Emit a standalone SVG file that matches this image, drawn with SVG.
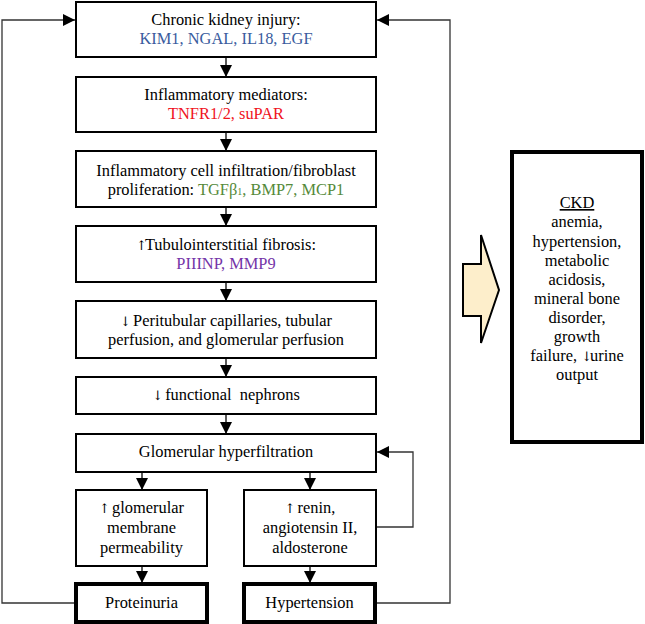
<svg xmlns="http://www.w3.org/2000/svg" width="645" height="624" viewBox="0 0 645 624">
<style>
.box{fill:#fff;stroke:#000;stroke-width:2}
.thick{fill:#fff;stroke:#000;stroke-width:4}
.t{font-family:"Liberation Serif","Times New Roman",serif;font-size:16.4px;fill:#000;text-anchor:middle;white-space:pre}
.ar{font-family:"DejaVu Serif","Liberation Serif",serif;font-size:13px;letter-spacing:-2px}
.blue{fill:#3A5C9E}
.red{fill:#F0141E}
.green{fill:#558A3A}
.purple{fill:#7434A8}
.c{fill:none;stroke:#000;stroke-width:1.3}
.fb{fill:none;stroke:#333;stroke-width:1.3}
</style>
<defs>
<marker id="ah" markerUnits="userSpaceOnUse" markerWidth="12" markerHeight="12" refX="12" refY="6" orient="auto">
<path d="M0,0 L12,6 L0,12 z" fill="#000"/>
</marker>
</defs>
<rect width="645" height="624" fill="#fff"/>
<g id="connectors">
<line class="c" x1="226" y1="57" x2="226" y2="77" marker-end="url(#ah)"/>
<line class="c" x1="226" y1="132" x2="226" y2="151" marker-end="url(#ah)"/>
<line class="c" x1="226" y1="207" x2="226" y2="226" marker-end="url(#ah)"/>
<line class="c" x1="226" y1="282" x2="226" y2="301" marker-end="url(#ah)"/>
<line class="c" x1="226" y1="358" x2="226" y2="377" marker-end="url(#ah)"/>
<line class="c" x1="226" y1="414" x2="226" y2="434" marker-end="url(#ah)"/>
<line class="c" x1="142" y1="472" x2="142" y2="490" marker-end="url(#ah)"/>
<line class="c" x1="310" y1="472" x2="310" y2="490" marker-end="url(#ah)"/>
<line class="c" x1="142" y1="566" x2="142" y2="583" marker-end="url(#ah)"/>
<line class="c" x1="310" y1="566" x2="310" y2="583" marker-end="url(#ah)"/>
<path class="fb" d="M74,603 H2 V20 H75" marker-end="url(#ah)"/>
<path class="fb" d="M377,603 H450 V20 H377" marker-end="url(#ah)"/>
<path class="fb" d="M376,527 H413 V452 H377" marker-end="url(#ah)"/>
</g>
<g id="n1">
<rect class="box" x="76" y="2" width="300" height="55"/>
<text class="t" x="226" y="25">Chronic kidney injury:</text>
<text class="t blue" x="226" y="44">KIM1, NGAL, IL18, EGF</text>
</g>
<g id="n2">
<rect class="box" x="76" y="77" width="300" height="55"/>
<text class="t" x="226" y="100">Inflammatory mediators:</text>
<text class="t red" x="226" y="119">TNFR1/2, suPAR</text>
</g>
<g id="n3">
<rect class="box" x="76" y="151" width="300" height="56"/>
<text class="t" x="226" y="176">Inflammatory cell infiltration/fibroblast</text>
<text class="t" x="226" y="195">proliferation: <tspan class="green">TGFβ<tspan font-size="10">1</tspan>, BMP7, MCP1</tspan></text>
</g>
<g id="n4">
<rect class="box" x="76" y="226" width="300" height="56"/>
<text class="t" x="226" y="250"><tspan class="ar">↑</tspan>Tubulointerstitial fibrosis:</text>
<text class="t purple" x="226" y="269">PIIINP, MMP9</text>
</g>
<g id="n5">
<rect class="box" x="76" y="301" width="300" height="57"/>
<text class="t" x="226" y="326"><tspan class="ar">↓</tspan> Peritubular capillaries, tubular</text>
<text class="t" x="226" y="345">perfusion, and glomerular perfusion</text>
</g>
<g id="n6">
<rect class="box" x="76" y="377" width="300" height="37"/>
<text class="t" x="226" y="400"><tspan class="ar">↓</tspan> functional  nephrons</text>
</g>
<g id="n7">
<rect class="box" x="76" y="434" width="300" height="38"/>
<text class="t" x="226" y="457">Glomerular hyperfiltration</text>
</g>
<g id="n8">
<rect class="box" x="76" y="490" width="131" height="76"/>
<text class="t" x="141.5" y="513"><tspan class="ar">↑</tspan> glomerular</text>
<text class="t" x="141.5" y="533">membrane</text>
<text class="t" x="141.5" y="553">permeability</text>
</g>
<g id="n9">
<rect class="box" x="244" y="490" width="132" height="76"/>
<text class="t" x="310" y="513"><tspan class="ar">↑</tspan> renin,</text>
<text class="t" x="310" y="533">angiotensin II,</text>
<text class="t" x="310" y="553">aldosterone</text>
</g>
<g id="n10">
<rect class="thick" x="76" y="584" width="131" height="38"/>
<text class="t" x="141.5" y="608">Proteinuria</text>
</g>
<g id="n11">
<rect class="thick" x="244" y="584" width="131" height="38"/>
<text class="t" x="309.5" y="608">Hypertension</text>
</g>
<g id="arrow">
<path d="M463,264 H481 V235 L499,290 L481,343 V316 H463 Z" fill="#FDEECB" stroke="#000" stroke-width="2" stroke-linejoin="miter"/>
</g>
<g id="ckd">
<rect class="thick" x="512" y="152" width="130" height="290"/>
<text class="t" x="577" y="208" text-decoration="underline">CKD</text>
<text class="t" x="577" y="227">anemia,</text>
<text class="t" x="577" y="247">hypertension,</text>
<text class="t" x="577" y="266">metabolic</text>
<text class="t" x="577" y="285">acidosis,</text>
<text class="t" x="577" y="304">mineral bone</text>
<text class="t" x="577" y="323">disorder,</text>
<text class="t" x="577" y="342">growth</text>
<text class="t" x="577" y="361">failure, <tspan class="ar">↓</tspan>urine</text>
<text class="t" x="577" y="380">output</text>
</g>
</svg>
